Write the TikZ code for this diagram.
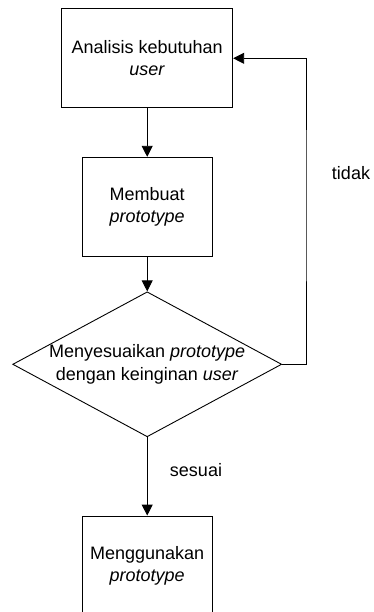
\documentclass[tikz,border=0pt]{standalone}
\usepackage{fontspec}
\setmainfont{Liberation Sans}
\usetikzlibrary{shapes.geometric,arrows.meta}

\tikzset{
  proses/.style = {draw, rectangle, align=center, inner sep=0pt,
                   font=\fontsize{18}{22.5}\selectfont},
  keputusan/.style = {draw, diamond, align=center, inner sep=-3pt, aspect=1.855,
                      minimum width=269pt, minimum height=145pt,
                      font=\fontsize{18}{22.5}\selectfont},
  label/.style = {font=\fontsize{18}{22.5}\selectfont},
  panah/.style = {-{Triangle[length=11pt,width=11pt]}},
}

\begin{document}
\begin{tikzpicture}[x=1pt, y=-1pt, line width=0.9pt]
\useasboundingbox (0,0) rectangle (373,612);
\clip (0,0) rectangle (373,612);

\node[proses, minimum width=171pt, minimum height=99pt] (analisis) at (147.2,58.3)
  {Analisis kebutuhan\\\textit{user}};
\node[proses, minimum width=130.3pt, minimum height=99.4pt] (membuat) at (147.2,207)
  {Membuat\\\textit{prototype}};
\node[keputusan] (sesuaikan) at (147.2,364.3)
  {Menyesuaikan \textit{prototype}\\dengan keinginan \textit{user}};
\node[proses, minimum width=130.3pt, minimum height=100pt] (menggunakan) at (147.2,566)
  {Menggunakan\\\textit{prototype}};

\node[label] (tidak) at (351,173) {tidak};
\node[label] (sesuai) at (196,470) {sesuai};

\coordinate (balik) at (306,200);

\draw[panah] (analisis) -- (membuat);
\draw[panah] (membuat) -- (sesuaikan);
\draw[panah] (sesuaikan) -- (menggunakan);
\draw[panah] (sesuaikan.east) -| (balik) |- (analisis.east);
\end{tikzpicture}
\end{document}
